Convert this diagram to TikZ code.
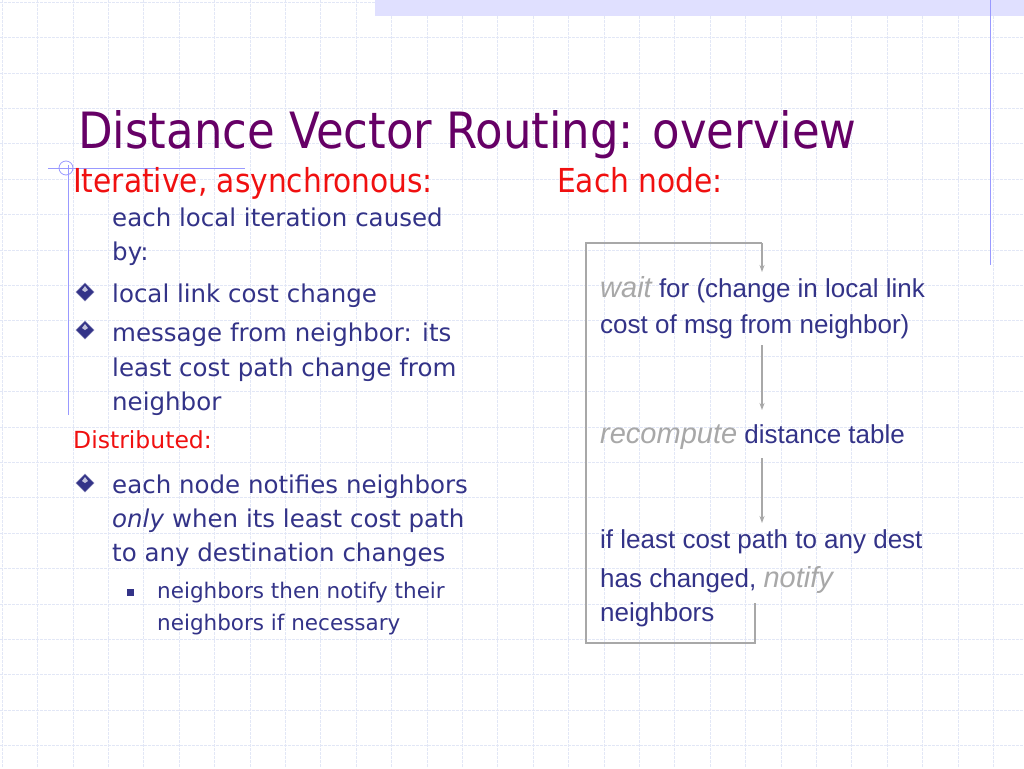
\documentclass[tikz,border=0pt]{standalone}
\usepackage{fontspec}
\setmainfont{DejaVu Sans}
\newfontfamily\titlef{DejaVu Sans Condensed}
\newfontfamily\arialf{Liberation Sans}
\usetikzlibrary{arrows.meta}
\definecolor{titlec}{HTML}{660066}
\definecolor{redc}{HTML}{F01010}
\definecolor{bluec}{HTML}{333388}
\definecolor{grayc}{HTML}{A8A8A8}
\definecolor{gridc}{HTML}{E2E7F6}
\tikzset{
  txt/.style={anchor=base west, inner sep=0pt, text=bluec, font=\fontsize{24.5}{28}\selectfont},
  rtxt/.style={anchor=base west, inner sep=0pt, text=bluec, font=\arialf\fontsize{26}{28}\selectfont},
  flow/.style={draw=grayc, line width=1.6pt, -{Stealth[length=7pt,width=5pt]}},
  bul/.style={fill=bluec, draw=bluec!60, line width=0.6pt}
}
\newcommand{\gw}[1]{\textcolor{grayc}{\itshape #1}}
\begin{document}
\begin{tikzpicture}[x=1pt,y=-1pt]
\useasboundingbox (0,0) rectangle (1024,768);
\fill[white] (0,0) rectangle (1024,768);
\foreach \i in {0,...,29} {\draw[gridc, line width=0.6pt, dash pattern=on 3pt off 1pt] (\i*35.4+2,0) -- (\i*35.4+2,768);}
\foreach \j in {0,...,22} {\draw[gridc, line width=0.6pt, dash pattern=on 3pt off 1pt] (0,\j*35.4+2) -- (1024,\j*35.4+2);}
\fill[blue!12] (375,0) rectangle (1024,16);
\draw[blue!40, line width=0.8pt] (990,0) -- (990,265);
\draw[blue!40, line width=0.8pt] (68,165) -- (68,415);
\draw[blue!40, line width=0.8pt] (48,168) -- (245,168);
\draw[blue!40, line width=0.8pt] (66,168) circle (7);
\node[anchor=base west, inner sep=0pt, text=titlec, font=\titlef\fontsize{50}{56}\selectfont] (title) at (78,148) {Distance Vector Routing: overview};
\node[txt, text=redc, font=\titlef\fontsize{33}{36}\selectfont] (iter) at (73,192) {Iterative, asynchronous:};
\node[txt] (l1) at (112,226) {each local iteration caused};
\node[txt] (l2) at (112,260) {by:};
\node[txt] (l3) at (112,302) {local link cost change};
\node[txt] (l4) at (112,341) {message from neighbor: its};
\node[txt] (l5) at (112,376) {least cost path change from};
\node[txt] (l6) at (112,410) {neighbor};
\node[txt, text=redc, font=\fontsize{23.5}{28}\selectfont] (dist) at (73,448) {Distributed:};
\node[txt] (l7) at (112,493) {each node notifies neighbors};
\node[txt] (l8) at (112,527) {\textit{only} when its least cost path};
\node[txt] (l9) at (112,561) {to any destination changes};
\node[txt, font=\fontsize{21.5}{26}\selectfont] (l10) at (157,598) {neighbors then notify their};
\node[txt, font=\fontsize{21.5}{26}\selectfont] (l11) at (157,630) {neighbors if necessary};
\foreach \y in {292,330,483} {\filldraw[bul] (85,\y-9) -- (94,\y) -- (85,\y+9) -- (76,\y) -- cycle;
  \fill[white!70!bluec] (85,\y-6) -- (88,\y-2) -- (85,\y) -- (82,\y-2) -- cycle;}
\fill[bluec] (127,589) rectangle (134,596);
\node[txt, text=redc, font=\titlef\fontsize{33}{36}\selectfont] (each) at (557,192) {Each node:};
\node[rtxt] (w1) at (600,297) {\gw{\fontsize{29}{28}\selectfont wait} for (change in local link};
\node[rtxt] (w2) at (600,333) {cost of msg from neighbor)};
\node[rtxt] (r1) at (600,443) {\gw{\fontsize{29}{28}\selectfont recompute} distance table};
\node[rtxt] (n1) at (600,548) {if least cost path to any dest};
\node[rtxt] (n2) at (600,587) {has changed, \gw{\fontsize{29}{28}\selectfont notify}};
\node[rtxt] (n3) at (600,621) {neighbors};
\coordinate (a0) at (762,243);
\coordinate (a1) at (762,272);
\coordinate (b0) at (762,345);
\coordinate (b1) at (762,410);
\coordinate (c0) at (762,458);
\coordinate (c1) at (762,523);
\draw[grayc, line width=1.6pt] (755,603) -- (755,643) -- (586,643) -- (586,243) -- (a0);
\draw[flow] (a0) -- (a1);
\draw[flow] (b0) -- (b1);
\draw[flow] (c0) -- (c1);
\end{tikzpicture}
\end{document}
